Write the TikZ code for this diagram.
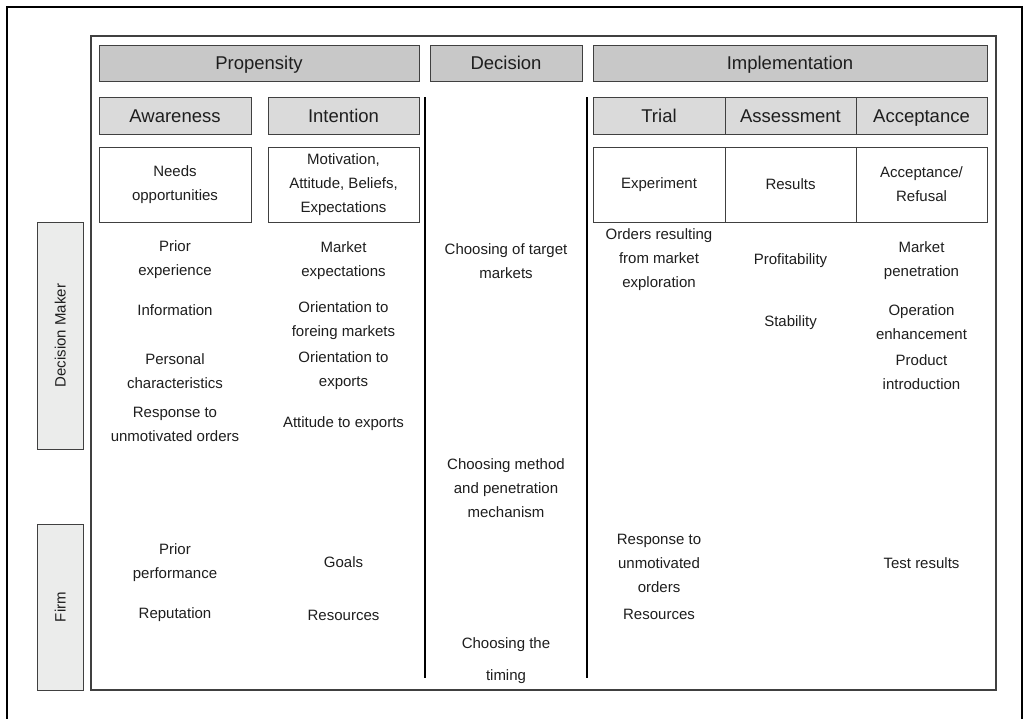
\documentclass[tikz,border=0pt]{standalone}
\usepackage{fontspec}
\setmainfont{Liberation Sans}
\usepackage{tikz}
\definecolor{hdrgray}{RGB}{200,200,200}
\definecolor{subgray}{RGB}{218,218,218}
\definecolor{sidegray}{RGB}{235,236,235}
\definecolor{linegray}{RGB}{64,64,64}
\definecolor{textgray}{RGB}{30,30,30}

\begin{document}
\begin{tikzpicture}[x=1pt,y=-1pt]
\tikzstyle{every node}+=[inner sep=0pt, align=center, text=textgray]
\tikzstyle{phase}=[draw=linegray, line width=1pt, fill=hdrgray, minimum height=36pt, text height=13pt, text depth=0pt, font=\fontsize{18.5}{22}\selectfont]
\tikzstyle{stage}=[draw=linegray, line width=1pt, fill=subgray, minimum height=37pt, text height=13pt, text depth=0pt, font=\fontsize{18.5}{22}\selectfont]
\tikzstyle{cell}=[draw=linegray, line width=1pt, fill=white, minimum height=75pt, font=\fontsize{15}{24}\selectfont]
\tikzstyle{side}=[draw=linegray, line width=1pt, fill=sidegray, rotate=90, minimum height=46pt, text height=11pt, text depth=0pt, font=\fontsize{15}{18}\selectfont]
\tikzstyle{item}=[font=\fontsize{15}{24}\selectfont]

\clip (0,0) rectangle (1027,718);
\fill [white] (0,0) rectangle (1027,718);
\draw [black, line width=2.5pt] (7,7) rectangle (1022,740);
\draw [linegray, line width=1.5pt] (91,36) rectangle (996,690);

\node [phase, minimum width=320pt] (propensity) at (259,63) {Propensity};
\node [phase, minimum width=152pt] (decision) at (506,63) {Decision};
\node [phase, minimum width=394pt] (implementation) at (790,63) {Implementation};

\node [stage, minimum width=152pt] (awareness) at (175,115.5) {Awareness};
\node [stage, minimum width=151pt] (intention) at (343.5,115.5) {Intention};
\node [stage, minimum width=132pt] (trial) at (659,115.5) {Trial};
\node [stage, minimum width=131pt] (assessment) at (790.5,115.5) {Assessment};
\node [stage, minimum width=131pt] (acceptance) at (921.5,115.5) {Acceptance};

\node [cell, minimum width=152pt] (needs) at (175,184.5) {Needs\\opportunities};
\node [cell, minimum width=151pt] (motivation) at (343.5,184.5) {Motivation,\\Attitude, Beliefs,\\Expectations};
\node [cell, minimum width=132pt] (experiment) at (659,184.5) {Experiment};
\node [cell, minimum width=131pt] (results) at (790.5,184.5) {Results};
\node [cell, minimum width=131pt] (refusal) at (921.5,184.5) {Acceptance/\\Refusal};

\node [side, minimum width=227pt] (maker) at (60,335.5) {Decision Maker};
\node [side, minimum width=166pt] (firm) at (60,607) {Firm};

\coordinate (decL) at (425,97);
\coordinate (decLend) at (425,678);
\coordinate (decR) at (587,97);
\coordinate (decRend) at (587,678);
\draw [black, line width=2pt] (decL) -- (decLend);
\draw [black, line width=2pt] (decR) -- (decRend);

\node [item] (awPrior) at (175,260) {Prior\\experience};
\node [item] (awInfo) at (175,310) {Information};
\node [item] (awPersonal) at (175,371) {Personal\\characteristics};
\node [item] (awResponse) at (175,424) {Response to\\unmotivated orders};
\node [item] (awPerformance) at (175,563) {Prior\\performance};
\node [item] (awReputation) at (175,615) {Reputation};

\node [item] (inMarket) at (343.5,261) {Market\\expectations};
\node [item] (inForeign) at (343.5,321) {Orientation to\\foreing markets};
\node [item] (inExports) at (343.5,371) {Orientation to\\exports};
\node [item] (inAttitude) at (343.5,424) {Attitude to exports};
\node [item] (inGoals) at (343.5,562) {Goals};
\node [item] (inResources) at (343.5,615) {Resources};

\node [item] (deTarget) at (506,261) {Choosing of target\\markets};
\node [item] (deMethod) at (506,488) {Choosing method\\and penetration\\mechanism};
\node [item] (deTiming) at (506,661) {Choosing the\\[8pt]timing};

\node [item] (trOrders) at (659,260) {Orders resulting\\from market\\exploration};
\node [item] (trResponse) at (659,563) {Response to\\unmotivated\\orders};
\node [item] (trResources) at (659,614) {Resources};

\node [item] (asProfit) at (790.5,261) {Profitability};
\node [item] (asStability) at (790.5,323) {Stability};

\node [item] (acMarket) at (921.5,261) {Market\\penetration};
\node [item] (acOperation) at (921.5,322) {Operation\\enhancement};
\node [item] (acProduct) at (921.5,372) {Product\\introduction};
\node [item] (acTest) at (921.5,563) {Test results};
\end{tikzpicture}
\end{document}
